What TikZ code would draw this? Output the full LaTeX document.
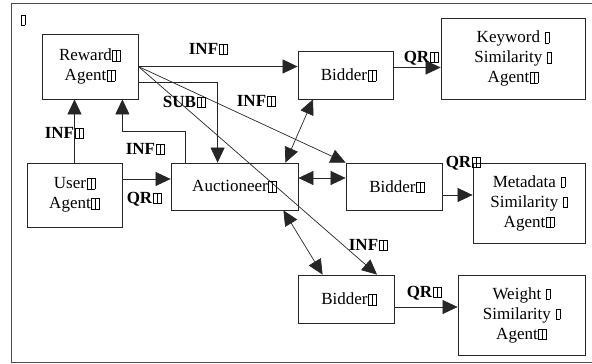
\documentclass[tikz,border=0pt]{standalone}
\usepackage{fontspec}
\setmainfont{Liberation Serif}
\usetikzlibrary{arrows.meta}
\newcommand\tofubox{{\setlength\fboxsep{0pt}\setlength\fboxrule{0.5pt}\fbox{\rule{0pt}{10pt}\kern3.5pt}}}
\newcommand\tf{\kern0.5pt\tofubox}
\newcommand\ttf{\kern0.5pt\tofubox\kern-0.5pt\tofubox}
\tikzset{
  box/.style={draw=black!85, line width=0.8pt, align=center, inner sep=0pt,
    font=\fontsize{17}{20}\selectfont},
  lbl/.style={font=\fontsize{17}{20}\selectfont\bfseries, inner sep=0pt},
  conn/.style={draw=black!85, line width=0.7pt},
  tip/.style={-{Triangle[length=15pt,width=14pt]}},
  dtip/.style={{Triangle[length=15pt,width=14pt]}-{Triangle[length=15pt,width=14pt]}},
}
\begin{document}
\begin{tikzpicture}[x=1pt,y=-1pt]
\useasboundingbox (0,0) rectangle (592,364);
% frame
\draw[black!70, line width=1pt] (592,3) -- (11,3) -- (11,362.5) -- (592,362.5);
\node[inner sep=0pt, font=\fontsize{17}{20}\selectfont] (corner) at (23,20) {\tofubox};
% nodes
\node[box, minimum width=96pt, minimum height=65pt] (reward) at (90,66.5) {Reward\ttf\\Agent\ttf};
\node[box, minimum width=95pt, minimum height=64pt] (user) at (74.5,195) {User\ttf\\Agent\ttf};
\node[box, minimum width=127pt, minimum height=47pt] (auct) at (234.5,186.5) {Auctioneer\ttf};
\node[box, minimum width=95pt, minimum height=48pt] (bid1) at (345.5,75) {\kern6pt Bidder\ttf};
\node[box, minimum width=96pt, minimum height=47pt] (bid2) at (394,186.5) {\kern6pt Bidder\ttf};
\node[box, minimum width=96pt, minimum height=48pt] (bid3) at (346,299) {\kern6pt Bidder\ttf};
\node[box, minimum width=144pt, minimum height=81pt] (kw) at (513,58.5) {Keyword \tf\\Similarity \tf\\Agent\ttf};
\node[box, minimum width=112pt, minimum height=80pt] (meta) at (529,203) {Metadata \tf\\Similarity \tf\\Agent\ttf};
\node[box, minimum width=127pt, minimum height=80pt] (wt) at (521.5,315) {Weight \tf\\Similarity \tf\\Agent\ttf};
% helper coordinates
\coordinate (r1) at ([yshift=-15.5pt]reward.east);
\coordinate (atop) at ([xshift=47pt]auct.north west);
\coordinate (atop2) at ([xshift=15pt]auct.north west);
\coordinate (rbot) at ([xshift=-16pt]reward.south east);
\coordinate (elb) at (atop2 |- 0,131);
\coordinate (u1) at ([yshift=16pt]user.east);
% connectors
\draw[conn,tip] (reward.east) -- (bid1.west |- reward.east);
\draw[conn,tip] (r1) -| (atop);
\draw[conn,tip] (reward.east) -- (bid2.north west);
\draw[conn,tip] (reward.east) -- ([xshift=31pt]bid3.north);
\draw[conn,tip] (user.north) -- (reward.south -| user.north);
\draw[conn,tip] (atop2) -- (elb) -| (rbot);
\draw[conn,tip] (u1) -- (auct.west |- u1);
\draw[conn,dtip] ([xshift=-13pt]auct.north east) -- ([xshift=-32.5pt]bid1.south);
\draw[conn,dtip] ([yshift=8.5pt]auct.east) -- ([yshift=8.5pt]bid2.west);
\draw[conn,dtip] ([xshift=-15pt]auct.south east) -- ([xshift=25pt]bid3.north west);
\coordinate (b1) at ([yshift=7.5pt]bid1.east);
\draw[conn,tip] (b1) -- (kw.west |- b1);
\coordinate (b2) at ([yshift=-8.5pt]bid2.east);
\draw[conn,tip] (b2) -- (meta.west |- b2);
\coordinate (b3) at ([yshift=-8pt]bid3.east);
\draw[conn,tip] (b3) -- (wt.west |- b3);
% labels
\node[lbl] (l1) at (208,49) {INF\ttf};
\node[lbl] (l2) at (184,102) {SUB\ttf};
\node[lbl] (l3) at (256,101) {INF\ttf};
\node[lbl] (l4) at (64,133) {INF\ttf};
\node[lbl] (l5) at (145,149) {INF\ttf};
\node[lbl] (l6) at (144,199) {QR\ttf};
\node[lbl] (l7) at (421,58) {QR\ttf};
\node[lbl] (l8) at (463,163) {QR\ttf};
\node[lbl] (l9) at (424,293) {QR\ttf};
\node[lbl] (l10) at (368,245) {INF\ttf};
\end{tikzpicture}
\end{document}
